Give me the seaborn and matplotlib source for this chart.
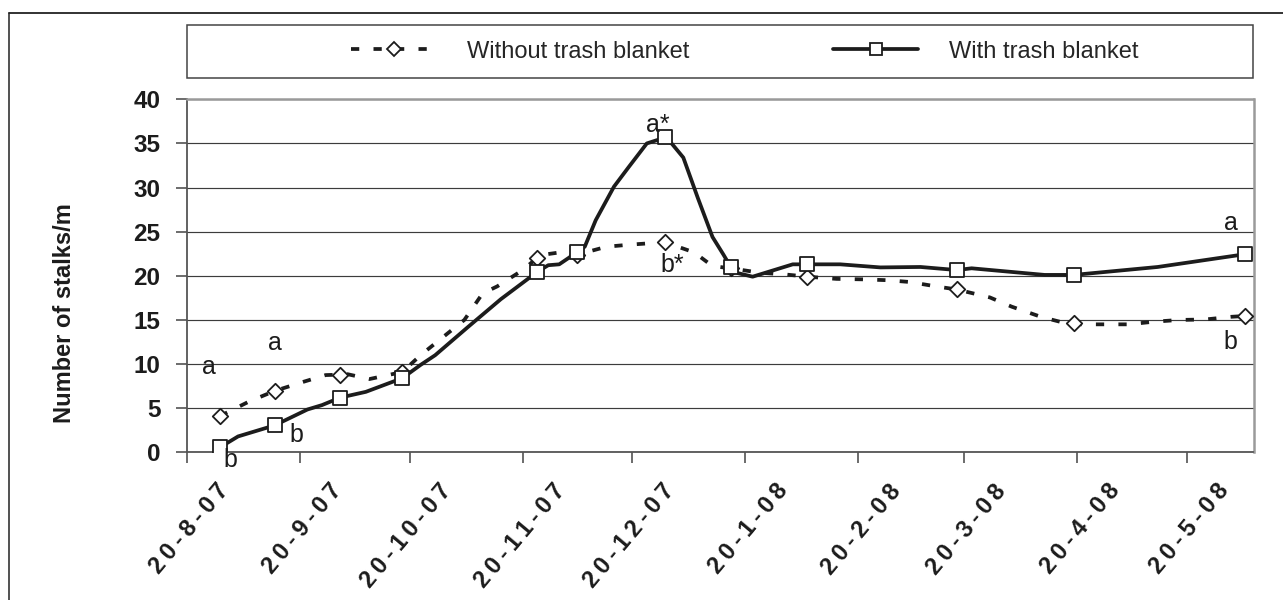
import matplotlib
matplotlib.use("Agg")
import pandas as pd
import matplotlib.pyplot as plt
import matplotlib.dates as mdates
from matplotlib.lines import Line2D
from matplotlib.patches import Rectangle
from matplotlib.transforms import ScaledTranslation
import seaborn as sns

# Sampling dates (marked points) and stalk counts for each treatment
sample_dates = ["2007-08-29", "2007-09-13", "2007-10-01", "2007-10-18", "2007-11-24",
                "2007-12-05", "2007-12-29", "2008-01-16", "2008-02-06", "2008-03-18",
                "2008-04-19", "2008-06-05"]
without_blanket = [4.1, 6.95, 8.8, 9.1, 22.05, 22.4, 23.8, 20.85, 19.9, 18.45, 14.7, 15.45]
with_blanket = [0.55, 3.05, 6.2, 8.4, 20.45, 22.7, 35.7, 21.0, 21.3, 20.65, 20.1, 22.45]

# Course of each curve between the sampling dates
with_curve_dates = ["2007-08-29", "2007-09-03", "2007-09-13", "2007-09-16", "2007-09-22",
                    "2007-09-26", "2007-10-01", "2007-10-08", "2007-10-18", "2007-10-23",
                    "2007-10-27", "2007-11-05", "2007-11-14", "2007-11-24", "2007-11-27",
                    "2007-11-30", "2007-12-05", "2007-12-07", "2007-12-10", "2007-12-15",
                    "2007-12-19", "2007-12-24", "2007-12-27", "2007-12-29", "2007-12-31",
                    "2008-01-03", "2008-01-07", "2008-01-11", "2008-01-14", "2008-01-16",
                    "2008-01-18", "2008-01-22", "2008-02-02", "2008-02-06", "2008-02-15",
                    "2008-02-26", "2008-03-08", "2008-03-18", "2008-03-22", "2008-04-11",
                    "2008-04-19", "2008-05-12", "2008-06-05"]
with_curve_values = [0.55, 1.8, 3.05, 3.65, 4.85, 5.35, 6.2, 6.85, 8.4, 9.9,
                     11.0, 14.2, 17.35, 20.45, 21.2, 21.3, 22.7, 23.3, 26.3, 30.1,
                     32.3, 35.0, 35.4, 35.7, 34.9, 33.4, 28.8, 24.4, 22.4, 21.0,
                     20.3, 19.9, 21.3, 21.3, 21.3, 20.95, 21.0, 20.65, 20.85, 20.1,
                     20.1, 21.0, 22.45]

without_curve_dates = ["2007-08-29", "2007-09-06", "2007-09-13", "2007-09-21", "2007-09-27",
                       "2007-10-01", "2007-10-03", "2007-10-09", "2007-10-18", "2007-10-23",
                       "2007-11-04", "2007-11-09", "2007-11-13", "2007-11-20", "2007-11-24",
                       "2007-11-25", "2007-12-01", "2007-12-05", "2007-12-13", "2007-12-20",
                       "2007-12-29", "2008-01-06", "2008-01-11", "2008-01-16", "2008-01-24",
                       "2008-01-31", "2008-02-06", "2008-02-14", "2008-02-21", "2008-02-28",
                       "2008-03-05", "2008-03-13", "2008-03-18", "2008-03-27", "2008-04-02",
                       "2008-04-10", "2008-04-17", "2008-04-19", "2008-04-21", "2008-04-27",
                       "2008-05-04", "2008-05-11", "2008-05-18", "2008-05-25", "2008-06-01",
                       "2008-06-05"]
without_curve_values = [4.1, 5.75, 6.95, 8.0, 8.75, 8.8, 8.85, 8.3, 9.1, 11.0,
                        15.0, 18.0, 18.8, 20.65, 22.05, 22.35, 22.7, 22.4, 23.3, 23.55,
                        23.8, 22.65, 21.1, 20.85, 20.35, 20.15, 19.9, 19.65, 19.6, 19.5,
                        19.3, 18.75, 18.45, 17.55, 16.5, 15.35, 14.6, 14.7, 14.5, 14.5,
                        14.5, 14.8, 15.0, 15.05, 15.35, 15.45]

# Axis ticks
tick_dates = ["2007-08-20", "2007-09-20", "2007-10-20", "2007-11-20", "2007-12-20",
              "2008-01-20", "2008-02-20", "2008-03-20", "2008-04-20", "2008-05-20"]
tick_labels = ["20-8-07", "20-9-07", "20-10-07", "20-11-07", "20-12-07",
               "20-1-08", "20-2-08", "20-3-08", "20-4-08", "20-5-08"]
y_ticks = [0, 5, 10, 15, 20, 25, 30, 35, 40]

# Significance letters: (text, date, value)
letters = [("a", "2007-08-26", 9.7), ("a", "2007-09-13", 12.4),
           ("b", "2007-09-19", 2.0), ("b", "2007-09-01", -0.85),
           ("a*", "2007-12-27", 37.1), ("b*", "2007-12-31", 21.2),
           ("a", "2008-06-01", 25.95), ("b", "2008-06-01", 12.5)]

series_labels = ["Without trash blanket", "With trash blanket"]

sns.set_theme(style="white")
plt.rcParams["font.family"] = ["Liberation Sans", "DejaVu Sans"]

INK = "#1c1c1c"
W, H = 1283, 600
fig = plt.figure(figsize=(W / 100, H / 100), dpi=100)
fig.patch.set_facecolor("white")
ax = fig.add_axes([187 / W, 1 - 452.3 / H, (1253.5 - 187) / W, (452.3 - 99.3) / H])
ax.set_facecolor("white")

dash_style = (0, (2.2, 3.8))
line_w = 2.7

sns.lineplot(x=pd.to_datetime(without_curve_dates), y=without_curve_values, ax=ax,
             color=INK, linewidth=line_w, linestyle=dash_style, sort=False,
             estimator=None, zorder=3)
sns.lineplot(x=pd.to_datetime(with_curve_dates), y=with_curve_values, ax=ax,
             color=INK, linewidth=line_w, sort=False, estimator=None, zorder=4)

sns.scatterplot(x=pd.to_datetime(sample_dates), y=without_blanket, ax=ax, marker="D",
                s=62, color="white", edgecolor=INK, linewidth=1.3, zorder=5)
sns.scatterplot(x=pd.to_datetime(sample_dates), y=with_blanket, ax=ax, marker="s",
                s=110, color="white", edgecolor=INK, linewidth=1.3, zorder=6)

ax.set_xlim(mdates.date2num(pd.Timestamp("2007-08-20")),
            mdates.date2num(pd.Timestamp("2008-06-07 06:00")))
ax.set_ylim(0, 40)

ax.set_yticks(y_ticks)
ax.set_yticklabels([str(v) for v in y_ticks], fontsize=17.5, fontweight="bold", color=INK)
ax.yaxis.grid(True, color="#3c3c3c", linewidth=0.85)
ax.xaxis.grid(False)
ax.set_axisbelow(True)

ax.set_xticks(mdates.date2num(pd.to_datetime(tick_dates)))
ax.set_xticklabels(["\u2009".join(t) for t in tick_labels], rotation=50, ha="right",
                   va="center", rotation_mode="anchor", fontsize=17,
                   fontweight="bold", color=INK)
ax.tick_params(axis="x", bottom=True, direction="out", length=8, width=1.1,
               color="#444444", pad=17)
ax.tick_params(axis="y", left=True, direction="out", length=8, width=1.1,
               color="#444444", pad=11)
shift = ScaledTranslation(38 / 100, 0, fig.dpi_scale_trans)
for lbl in ax.get_xticklabels():
    lbl.set_transform(lbl.get_transform() + shift)

for side in ("left", "bottom"):
    ax.spines[side].set_color("#555555")
    ax.spines[side].set_linewidth(1.3)
for side in ("top", "right"):
    ax.spines[side].set_color("#9a9a9a")
    ax.spines[side].set_linewidth(1.8)

ax.set_xlabel("")
ax.set_ylabel("Number of stalks/m", fontsize=17, fontweight="bold", color=INK)
ax.yaxis.label.set_va("center")
ax.yaxis.set_label_coords(-0.1153, 0.395)

for txt, d, v in letters:
    ax.text(mdates.date2num(pd.Timestamp(d)), v, txt, fontsize=18, color=INK,
            ha="center", va="center", zorder=7, clip_on=False)

# Legend across the top
handles = [
    Line2D([], [], color=INK, linewidth=line_w, linestyle=dash_style, marker="D",
           markersize=7.5, markerfacecolor="white", markeredgecolor=INK,
           markeredgewidth=1.3),
    Line2D([], [], color=INK, linewidth=line_w, marker="s", markersize=8.8,
           markerfacecolor="white", markeredgecolor=INK, markeredgewidth=1.3),
]
fig.legend(handles, series_labels, ncol=2, loc="center",
           bbox_to_anchor=(745 / W, 1 - 51.5 / H), frameon=False, fontsize=17,
           handlelength=3.6, handletextpad=1.3, columnspacing=6.1)
fig.add_artist(Rectangle((186.7 / W, 1 - 78.3 / H), (1253 - 186.7) / W, (78.3 - 25) / H,
                         transform=fig.transFigure, fill=False, edgecolor="#444444",
                         linewidth=1.1))

# Outer frame (left and top edges)
fig.add_artist(Line2D([9 / W, 9 / W], [0, 1 - 12.5 / H], transform=fig.transFigure,
                      color="#222222", linewidth=1.1))
fig.add_artist(Line2D([9 / W, 1], [1 - 12.5 / H, 1 - 12.5 / H], transform=fig.transFigure,
                      color="#222222", linewidth=1.3))

fig.savefig("out.png", dpi=100, facecolor="white")
